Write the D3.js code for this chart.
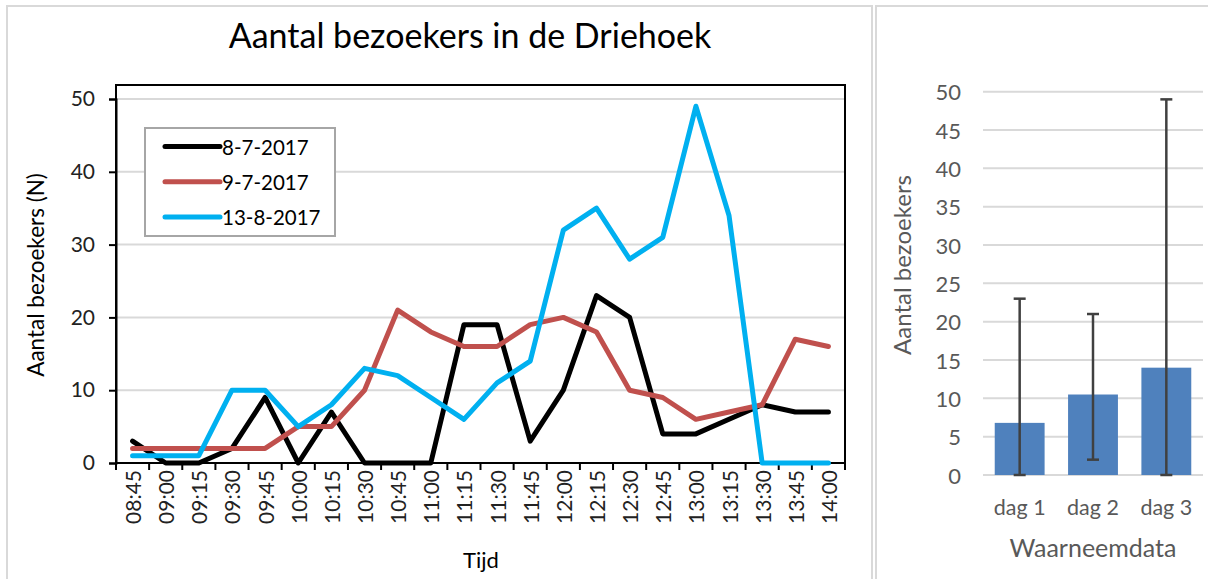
<!DOCTYPE html>
<html>
<head>
<meta charset="utf-8">
<script src="https://cdn.jsdelivr.net/npm/d3@7"></script>
<style>
  html, body { margin: 0; padding: 0; background: #fff; }
  svg { display: block; }
  text { font-family: Lato, "Open Sans", sans-serif; }
</style>
</head>
<body>
<svg id="chart" width="1208" height="579"></svg>
<script>
// ---------- data ----------
const times = ["08:45","09:00","09:15","09:30","09:45","10:00","10:15","10:30","10:45","11:00","11:15",
               "11:30","11:45","12:00","12:15","12:30","12:45","13:00","13:15","13:30","13:45","14:00"];
const seriesNames = ["8-7-2017", "9-7-2017", "13-8-2017"];
const day1Values = [3,0,0,2,9,0,7,0,0,0,19,19,3,10,23,20,4,4,6,8,7,7];
const day2Values = [2,2,2,2,2,5,5,10,21,18,16,16,19,20,18,10,9,6,7,8,17,16];
const day3Values = [1,1,1,10,10,5,8,13,12,9,6,11,14,32,35,28,31,49,34,0,0,0];
const leftTicks = [0,10,20,30,40,50];

const barCategories = ["dag 1", "dag 2", "dag 3"];
const barMeans = [6.8, 10.5, 14.0];
const barMins = [0, 2, 0];
const barMaxs = [23, 21, 49];
const rightTicks = [0,5,10,15,20,25,30,35,40,45,50];

// ---------- drawing ----------
const svg = d3.select("#chart");
const colors = ["#000000", "#C0504D", "#00B0F0"];
const seriesValues = [day1Values, day2Values, day3Values];

// panel borders
svg.append("rect").attr("x", 7).attr("y", 6).attr("width", 865).attr("height", 600)
  .attr("fill", "none").attr("stroke", "#d9d9d9").attr("stroke-width", 2);
svg.append("rect").attr("x", 876).attr("y", 6).attr("width", 340).attr("height", 600)
  .attr("fill", "none").attr("stroke", "#d9d9d9").attr("stroke-width", 2);

// ===== Left chart =====
const L = { left: 116, right: 845, top: 85, bottom: 463, yTop: 99 };
const x = d3.scaleBand().domain(times).range([L.left, L.right]).padding(0);
const y = d3.scaleLinear().domain([0, 50]).range([L.bottom, L.yTop]);

const gL = svg.append("g");

// title
gL.append("text").attr("x", 470).attr("y", 48).attr("text-anchor", "middle")
  .attr("font-size", 34).attr("fill", "#000").text("Aantal bezoekers in de Driehoek");

// gridlines
gL.append("g").selectAll("line").data(leftTicks.filter(d => d > 0)).join("line")
  .attr("x1", L.left).attr("x2", L.right)
  .attr("y1", d => y(d)).attr("y2", d => y(d))
  .attr("stroke", "#d9d9d9").attr("stroke-width", 2);

// frame
gL.append("rect").attr("x", L.left).attr("y", L.top)
  .attr("width", L.right - L.left).attr("height", L.bottom - L.top)
  .attr("fill", "none").attr("stroke", "#000").attr("stroke-width", 2);

// y axis
const yAxis = d3.axisLeft(y).tickValues(leftTicks).tickSize(7).tickPadding(14);
const yg = gL.append("g").attr("transform", `translate(${L.left},0)`).call(yAxis);
yg.select(".domain").attr("stroke", "#000").attr("stroke-width", 2);
yg.selectAll(".tick line").attr("stroke", "#000").attr("stroke-width", 2);
yg.selectAll(".tick text").attr("font-size", 21).attr("fill", "#222")
  .attr("font-family", "Lato, sans-serif");

// x axis: ticks at band boundaries
const xb = gL.append("g");
const boundaries = times.map(t => x(t)).concat([L.right]);
xb.selectAll("line").data(boundaries).join("line")
  .attr("x1", d => d).attr("x2", d => d)
  .attr("y1", L.bottom).attr("y2", L.bottom + 7)
  .attr("stroke", "#000").attr("stroke-width", 2);
xb.append("line").attr("x1", L.left).attr("x2", L.right)
  .attr("y1", L.bottom).attr("y2", L.bottom).attr("stroke", "#000").attr("stroke-width", 2);
xb.selectAll("text").data(times).join("text")
  .attr("transform", t => `translate(${x(t) + x.bandwidth() / 2},${L.bottom + 7}) rotate(-90)`)
  .attr("text-anchor", "end").attr("dominant-baseline", "central")
  .attr("font-size", 21).attr("fill", "#222").text(t => t);

// lines
const line = d3.line().x((d, i) => x(times[i]) + x.bandwidth() / 2).y(d => y(d));
seriesValues.forEach((vals, k) => {
  gL.append("path").datum(vals).attr("d", line)
    .attr("fill", "none").attr("stroke", colors[k]).attr("stroke-width", 5)
    .attr("stroke-linejoin", "round").attr("stroke-linecap", "round");
});

// axis titles
gL.append("text").attr("transform", "translate(44,275) rotate(-90)")
  .attr("text-anchor", "middle").attr("font-size", 22.5).attr("fill", "#000")
  .text("Aantal bezoekers (N)");
gL.append("text").attr("x", 481).attr("y", 568).attr("text-anchor", "middle")
  .attr("font-size", 22).attr("fill", "#000").text("Tijd");

// legend
const lg = gL.append("g");
lg.append("rect").attr("x", 145).attr("y", 128).attr("width", 190).attr("height", 108)
  .attr("fill", "#fff").attr("stroke", "#a6a6a6").attr("stroke-width", 2);
seriesNames.forEach((name, k) => {
  const yy = 146.5 + k * 35.3;
  lg.append("line").attr("x1", 165).attr("x2", 220).attr("y1", yy).attr("y2", yy)
    .attr("stroke", colors[k]).attr("stroke-width", 5).attr("stroke-linecap", "round");
  lg.append("text").attr("x", 222).attr("y", yy).attr("dominant-baseline", "central")
    .attr("font-size", 20.5).attr("fill", "#000").text(name);
});

// ===== Right chart =====
const R = { left: 983, right: 1203, bottom: 475, top: 91.7 };
const xr = d3.scaleBand().domain(barCategories).range([R.left, R.right])
  .paddingInner(0.32).paddingOuter(0.16);
const yr = d3.scaleLinear().domain([0, 50]).range([R.bottom, R.top]);
const gR = svg.append("g");

gR.append("g").selectAll("line").data(rightTicks).join("line")
  .attr("x1", R.left).attr("x2", R.right)
  .attr("y1", d => yr(d)).attr("y2", d => yr(d))
  .attr("stroke", "#d9d9d9").attr("stroke-width", 2);

gR.append("g").selectAll("text").data(rightTicks).join("text")
  .attr("x", 961).attr("y", d => yr(d)).attr("text-anchor", "end")
  .attr("dominant-baseline", "central").attr("font-size", 22).attr("fill", "#595959")
  .text(d => d);

gR.append("g").selectAll("rect").data(barMeans).join("rect")
  .attr("x", (d, i) => xr(barCategories[i])).attr("width", xr.bandwidth())
  .attr("y", d => yr(d)).attr("height", d => yr(0) - yr(d))
  .attr("fill", "#4F81BD");

const eb = gR.append("g").attr("stroke", "#404040").attr("stroke-width", 2.5);
barCategories.forEach((c, i) => {
  const cx = xr(c) + xr.bandwidth() / 2;
  eb.append("line").attr("x1", cx).attr("x2", cx).attr("y1", yr(barMins[i])).attr("y2", yr(barMaxs[i]));
  eb.append("line").attr("x1", cx - 6).attr("x2", cx + 6).attr("y1", yr(barMaxs[i])).attr("y2", yr(barMaxs[i]));
  eb.append("line").attr("x1", cx - 6).attr("x2", cx + 6).attr("y1", yr(barMins[i])).attr("y2", yr(barMins[i]));
});

gR.append("g").selectAll("text").data(barCategories).join("text")
  .attr("x", c => xr(c) + xr.bandwidth() / 2).attr("y", 507)
  .attr("text-anchor", "middle").attr("dominant-baseline", "central")
  .attr("font-size", 21.5).attr("fill", "#595959").text(c => c);

gR.append("text").attr("x", 1093).attr("y", 547).attr("text-anchor", "middle")
  .attr("dominant-baseline", "central").attr("font-size", 25).attr("fill", "#595959")
  .text("Waarneemdata");

gR.append("text").attr("transform", "translate(901,265) rotate(-90)")
  .attr("text-anchor", "middle").attr("dominant-baseline", "central")
  .attr("font-size", 24).attr("fill", "#595959").text("Aantal bezoekers");
</script>
</body>
</html>
